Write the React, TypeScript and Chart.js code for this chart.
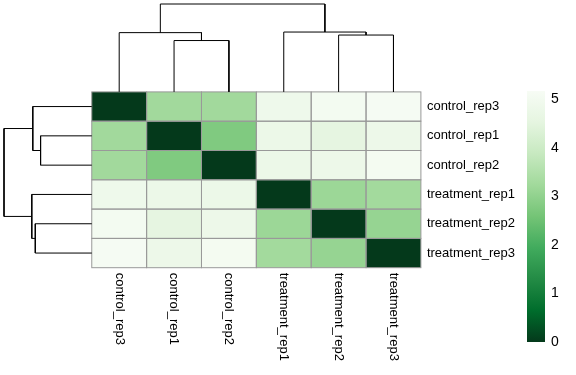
import React, { useEffect, useRef } from "react";
import { Chart, registerables } from "chart.js";

Chart.register(...registerables);

// ---- data ----
const COLUMN_LABELS = ["control_rep3", "control_rep1", "control_rep2", "treatment_rep1", "treatment_rep2", "treatment_rep3"];
const ROW_LABELS = ["control_rep3", "control_rep1", "control_rep2", "treatment_rep1", "treatment_rep2", "treatment_rep3"];

const ROW_CONTROL_REP3 = [0, 3.25, 3.24, 4.85, 5.04, 5.1];
const ROW_CONTROL_REP1 = [3.25, 0, 2.76, 4.78, 4.56, 4.81];
const ROW_CONTROL_REP2 = [3.24, 2.76, 0, 4.76, 4.81, 5.06];
const ROW_TREATMENT_REP1 = [4.85, 4.78, 4.76, 0, 3.16, 3.26];
const ROW_TREATMENT_REP2 = [5.04, 4.56, 4.81, 3.16, 0, 3.07];
const ROW_TREATMENT_REP3 = [5.1, 4.81, 5.06, 3.26, 3.07, 0];
const MATRIX = [ROW_CONTROL_REP3, ROW_CONTROL_REP1, ROW_CONTROL_REP2, ROW_TREATMENT_REP1, ROW_TREATMENT_REP2, ROW_TREATMENT_REP3];

// hclust-style merges (negative = leaf in display order, positive = earlier merge)
const COL_MERGES = [[-2, -3], [-5, -6], [-1, 1], [-4, 2], [3, 4]];
const COL_HEIGHTS = [51.3, 56.8, 59.2, 59.8, 87.8];
const ROW_MERGES = [[-2, -3], [-5, -6], [-1, 1], [-4, 2], [3, 4]];
const ROW_HEIGHTS = [51.2, 56.5, 59.0, 60.0, 87.8];

const LEGEND_TICKS = [0, 1, 2, 3, 4, 5];
const LEGEND_MIN = 0;
const LEGEND_MAX = 5.17;
const PALETTE = ["#04391B", "#006D2C", "#238B45", "#41AB5D", "#74C476", "#A1D99B", "#C7E9C0", "#E5F5E0", "#F7FCF5"];

// ---- helpers ----
const FONT = '"Liberation Sans", Arial, Helvetica, sans-serif';
const DENDRO_X_SPAN = 1.6; // in column units
const DENDRO_Y_SPAN = 3; // in row units

function hexToRgb(h: string) {
  const n = parseInt(h.slice(1), 16);
  return [(n >> 16) & 255, (n >> 8) & 255, n & 255];
}
function colorFor(v: number) {
  let t = (v - LEGEND_MIN) / (LEGEND_MAX - LEGEND_MIN);
  t = Math.max(0, Math.min(1, t)) * (PALETTE.length - 1);
  const i = Math.min(PALETTE.length - 2, Math.floor(t));
  const f = t - i;
  const a = hexToRgb(PALETTE[i]);
  const b = hexToRgb(PALETTE[i + 1]);
  const c = a.map((av, k) => Math.round(av + (b[k] - av) * f));
  return `rgb(${c[0]},${c[1]},${c[2]})`;
}

function dendroSegments(merges: number[][], heights: number[]) {
  const root = heights[heights.length - 1];
  const nodes: { pos: number; h: number }[] = [];
  const segs: { pos: number; h: number }[][] = [];
  const get = (id: number) => (id < 0 ? { pos: -id - 1 + 0.5, h: 0 } : nodes[id - 1]);
  merges.forEach((m, k) => {
    const a = get(m[0]);
    const b = get(m[1]);
    const h = heights[k];
    nodes.push({ pos: (a.pos + b.pos) / 2, h });
    segs.push([
      { pos: a.pos, h: a.h / root },
      { pos: a.pos, h: h / root },
      { pos: b.pos, h: h / root },
      { pos: b.pos, h: b.h / root },
    ]);
  });
  return segs;
}

export default function App() {
  const mainRef = useRef<HTMLCanvasElement>(null);
  const cbRef = useRef<HTMLCanvasElement>(null);

  useEffect(() => {
    const topSegs = dendroSegments(COL_MERGES, COL_HEIGHTS);
    const leftSegs = dendroSegments(ROW_MERGES, ROW_HEIGHTS);
    const lineStyle = {
      showLine: true,
      pointRadius: 0,
      borderColor: "#000000",
      borderWidth: 1,
      tension: 0,
      clip: false as any,
    };
    const datasets: any[] = [
      ...topSegs.map((s) => ({ ...lineStyle, data: s.map((p) => ({ x: p.pos, y: -DENDRO_Y_SPAN * p.h })) })),
      ...leftSegs.map((s) => ({ ...lineStyle, data: s.map((p) => ({ x: -DENDRO_X_SPAN * p.h, y: p.pos })) })),
    ];

    const heatmapPlugin = {
      id: "heatmap",
      beforeDatasetsDraw(chart: any) {
        const ctx = chart.ctx;
        const xs = chart.scales.x;
        const ys = chart.scales.y;
        ctx.save();
        MATRIX.forEach((row, r) => {
          row.forEach((v, c) => {
            const x0 = xs.getPixelForValue(c);
            const x1 = xs.getPixelForValue(c + 1);
            const y0 = ys.getPixelForValue(r);
            const y1 = ys.getPixelForValue(r + 1);
            ctx.fillStyle = colorFor(v);
            ctx.fillRect(x0, y0, x1 - x0, y1 - y0);
          });
        });
        ctx.strokeStyle = "#999999";
        ctx.lineWidth = 1;
        MATRIX.forEach((row, r) => {
          row.forEach((_v, c) => {
            const x0 = xs.getPixelForValue(c);
            const x1 = xs.getPixelForValue(c + 1);
            const y0 = ys.getPixelForValue(r);
            const y1 = ys.getPixelForValue(r + 1);
            ctx.strokeRect(x0, y0, x1 - x0, y1 - y0);
          });
        });
        ctx.restore();
      },
      afterDraw(chart: any) {
        const ctx = chart.ctx;
        const xs = chart.scales.x;
        const ys = chart.scales.y;
        ctx.save();
        ctx.fillStyle = "#000000";
        ctx.font = `13px ${FONT}`;
        ctx.textAlign = "left";
        ctx.textBaseline = "middle";
        const right = xs.getPixelForValue(COLUMN_LABELS.length);
        ROW_LABELS.forEach((lab, r) => {
          ctx.fillText(lab, right + 6, ys.getPixelForValue(r + 0.5));
        });
        const bottom = ys.getPixelForValue(ROW_LABELS.length);
        COLUMN_LABELS.forEach((lab, c) => {
          ctx.save();
          ctx.translate(xs.getPixelForValue(c + 0.5), bottom + 5);
          ctx.rotate(Math.PI / 2);
          ctx.fillText(lab, 0, 0);
          ctx.restore();
        });
        ctx.restore();
      },
    };

    const main = new Chart(mainRef.current as HTMLCanvasElement, {
      type: "scatter",
      data: { datasets },
      options: {
        animation: false,
        responsive: false,
        events: [],
        layout: { padding: { left: 4, top: 4, right: 155.1, bottom: 107.3 } },
        scales: {
          x: { type: "linear", min: -DENDRO_X_SPAN, max: COLUMN_LABELS.length, display: false },
          y: { type: "linear", min: -DENDRO_Y_SPAN, max: ROW_LABELS.length, reverse: true, display: false },
        },
        plugins: { legend: { display: false }, tooltip: { enabled: false } },
      },
      plugins: [heatmapPlugin],
    } as any);

    const cbLabelPlugin = {
      id: "cbLabels",
      afterDraw(chart: any) {
        const ctx = chart.ctx;
        const ys = chart.scales.y;
        ctx.save();
        ctx.fillStyle = "#000000";
        ctx.font = `14px ${FONT}`;
        ctx.textAlign = "left";
        ctx.textBaseline = "middle";
        LEGEND_TICKS.forEach((t) => {
          ctx.fillText(String(t), chart.chartArea.right + 6, ys.getPixelForValue(t));
        });
        ctx.restore();
      },
    };

    const cb = new Chart(cbRef.current as HTMLCanvasElement, {
      type: "bar",
      data: {
        labels: ["legend"],
        datasets: [
          {
            data: [[LEGEND_MIN, LEGEND_MAX]],
            barPercentage: 1,
            categoryPercentage: 1,
            borderWidth: 0,
            backgroundColor: (context: any) => {
              const chart = context.chart;
              const ys = chart.scales.y;
              if (!chart.chartArea || !ys) return PALETTE[0];
              const g = chart.ctx.createLinearGradient(0, ys.getPixelForValue(LEGEND_MIN), 0, ys.getPixelForValue(LEGEND_MAX));
              PALETTE.forEach((c, i) => g.addColorStop(i / (PALETTE.length - 1), c));
              return g;
            },
          },
        ],
      },
      options: {
        animation: false,
        responsive: false,
        events: [],
        layout: { padding: { left: 27, right: 31, top: 11, bottom: 18 } },
        scales: {
          x: { display: false },
          y: { type: "linear", min: LEGEND_MIN, max: LEGEND_MAX, display: false },
        },
        plugins: { legend: { display: false }, tooltip: { enabled: false } },
      },
      plugins: [cbLabelPlugin],
    } as any);

    return () => {
      main.destroy();
      cb.destroy();
    };
  }, []);

  return (
    <div style={{ position: "fixed", left: 0, top: 0, width: 576, height: 375, background: "#ffffff" }}>
      <canvas ref={mainRef} width={576} height={375} style={{ position: "absolute", left: 0, top: 0, width: 576, height: 375 }} />
      <canvas ref={cbRef} width={76} height={280} style={{ position: "absolute", left: 500, top: 80, width: 76, height: 280 }} />
    </div>
  );
}
